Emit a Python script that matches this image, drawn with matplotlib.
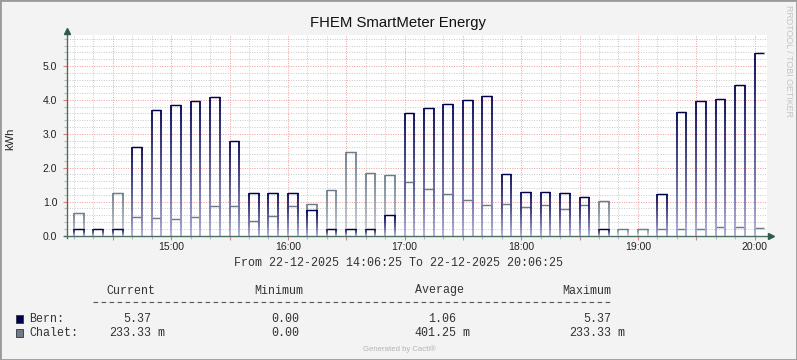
import matplotlib.pyplot as plt
import numpy as np
from matplotlib.collections import LineCollection
from matplotlib.patches import Rectangle
from matplotlib.colors import to_rgb
from matplotlib.ticker import MultipleLocator, FuncFormatter

# RRDtool / Cacti style graph, 5 minute steps, one reading every 10 minutes
W, H = 797, 360

slot_times = ['14:10', '14:20', '14:30', '14:40', '14:50', '15:00', '15:10', '15:20', '15:30',
              '15:40', '15:50', '16:00', '16:10', '16:20', '16:30', '16:40', '16:50', '17:00',
              '17:10', '17:20', '17:30', '17:40', '17:50', '18:00', '18:10', '18:20', '18:30',
              '18:40', '18:50', '19:00', '19:10', '19:20', '19:30', '19:40', '19:50', '20:00']
bern = [0.20, 0.20, 0.20, 2.60, 3.69, 3.84, 3.96, 4.08, 2.78, 1.24, 1.24, 1.24, 0.74, 0.20, 0.20,
        0.20, 0.60, 3.62, 3.75, 3.88, 4.00, 4.11, 1.81, 1.27, 1.27, 1.24, 1.13, 0.20, 0.00, 0.00,
        1.21, 3.63, 3.97, 4.03, 4.43, 5.37]
chalet = [0.65, 0.00, 1.24, 0.54, 0.51, 0.50, 0.54, 0.86, 0.86, 0.42, 0.57, 0.86, 0.92, 1.33, 2.45,
          1.83, 1.78, 1.57, 1.36, 1.21, 1.04, 0.89, 0.92, 0.83, 0.89, 0.77, 0.89, 1.01, 0.20, 0.20,
          0.20, 0.20, 0.20, 0.24, 0.24, 0.233]

legend_names = ['Bern:', 'Chalet:']
legend_current = ['5.37', '233.33 m']
legend_minimum = ['0.00', '0.00']
legend_average = ['1.06', '401.25 m']
legend_maximum = ['5.37', '233.33 m']

BERN_COL = '#000050'
CHALET_COL = '#6e7b8b'
AXIS_COL = '#4a6e62'
SANS = 'Liberation Sans'
MONO = 'Liberation Mono'

# x is in minutes after 14:00
t_start, t_end = 6 + 25 / 60, 366 + 25 / 60
slot_min = [(int(s[:2]) - 14) * 60 + int(s[3:]) for s in slot_times]


def px(x, y):
    return x / W, 1 - y / H


def draw_series(ax, starts, vals, color, light, width=5, data_end=365):
    c1 = np.array(to_rgb(color))
    c0 = np.array(to_rgb(light))
    segs, cols, lws = [], [], []
    for t, v in zip(starts, vals):
        if v <= 0:
            continue
        segs.append([(t, v), (t + width, v)])
        cols.append(c1)
        lws.append(1.05)
        for x in (t, t + width):
            if x >= data_end:
                continue
            n = 30
            ys = np.linspace(0, v, n + 1)
            for k in range(n):
                f = ((k + 0.5) / n) ** 0.8
                segs.append([(x, ys[k]), (x, ys[k + 1])])
                cols.append(c0 + (c1 - c0) * f)
                lws.append(1.3)
    ax.add_collection(LineCollection(segs, colors=cols, linewidths=lws, zorder=3, capstyle='butt'))


fig = plt.figure(figsize=(W / 100, H / 100), dpi=100, facecolor='#f3f3f3')
ax = fig.add_axes([67 / W, 1 - 235.5 / H, 700 / W, 200.5 / H], facecolor='#ffffff')

draw_series(ax, slot_min, chalet, CHALET_COL, '#d4d8de')
draw_series(ax, slot_min, bern, BERN_COL, '#b4b4dc')

ax.set_xlim(t_start, t_end)
ax.set_ylim(0, 5.915)

# grid: red dotted every 30 min / 1.0, grey dotted every 10 min / 0.2
ax.xaxis.set_major_locator(MultipleLocator(30))
ax.xaxis.set_minor_locator(MultipleLocator(10))
ax.yaxis.set_major_locator(MultipleLocator(1.0))
ax.yaxis.set_minor_locator(MultipleLocator(0.2))
ax.grid(which='minor', color='#c8c8c8', linestyle=(0, (1, 1.5)), linewidth=0.7, zorder=1)
ax.grid(which='major', color='#eb9a9a', linestyle=(0, (1, 1.5)), linewidth=0.7, zorder=1)
ax.set_axisbelow(True)


def hour_fmt(m, pos):
    m = int(round(m))
    if m % 60:
        return ''
    return f'{14 + m // 60}:00'


ax.xaxis.set_major_formatter(FuncFormatter(hour_fmt))
ax.yaxis.set_major_formatter(FuncFormatter(lambda v, p: f'{v:.1f}'))
ax.tick_params(which='major', length=3, width=0.8, color='#e08080', labelsize=7.5, labelcolor='#222222')
ax.tick_params(which='minor', length=2, width=0.8, color='#bbbbbb')
ax.tick_params(axis='x', which='major', pad=1.6)
ax.tick_params(axis='y', which='major', pad=4)
for lab in ax.get_xticklabels() + ax.get_yticklabels():
    lab.set_fontfamily(SANS)

for s in ax.spines.values():
    s.set_visible(False)

# axes with arrows
ax.plot([0, 0], [-0.012, 1.02], transform=ax.transAxes, color=AXIS_COL, lw=1.0, clip_on=False, zorder=5)
ax.plot([-0.004, 1.005], [0, 0], transform=ax.transAxes, color=AXIS_COL, lw=1.0, clip_on=False, zorder=5)
ax.plot([0], [1.02], marker='^', ms=4.5, color='#2f5a4c', transform=ax.transAxes, clip_on=False, zorder=6)
ax.plot([1.006], [0], marker='>', ms=4.5, color='#2f5a4c', transform=ax.transAxes, clip_on=False, zorder=6)

fig.text(*px(397.5, 22.5), 'FHEM SmartMeter Energy', family=SANS, fontsize=10.7,
         ha='center', va='center', color='#111111')
fig.text(*px(10, 139), 'kWh', family=SANS, fontsize=8, rotation=90,
         ha='center', va='center', color='#222222')
fig.text(*px(789, 5), 'RRDTOOL / TOBI OETIKER', family=SANS, fontsize=6.4, rotation=270,
         ha='center', va='top', color='#c4c4c4')

fig.text(*px(399, 263.5), 'From 22-12-2025 14:06:25 To 22-12-2025 20:06:25', family=MONO,
         fontsize=8.4, ha='center', va='center', color='#333333')

# legend table
for x, head in [(131, 'Current'), (278.5, 'Minimum'), (439, 'Average'), (586.5, 'Maximum')]:
    fig.text(*px(x, 290.5), head, family=MONO, fontsize=8.4, ha='center', va='center', color='#333333')
fig.add_artist(plt.Line2D([93 / W, 610 / W], [1 - 302 / H] * 2, color='#555555', lw=0.8,
                          linestyle=(0, (4.2, 3.0))))

row_y = [318.5, 332.5]
for i, (name, col) in enumerate(zip(legend_names, [BERN_COL, CHALET_COL])):
    y = row_y[i]
    fig.add_artist(Rectangle(px(15.5, y + 4), 7 / W, 8 / H, facecolor=col, edgecolor='#333333',
                             lw=0.6, transform=fig.transFigure))
    fig.text(*px(29.5, y), name, family=MONO, fontsize=8.4, ha='left', va='center', color='#333333')
    # numbers right-aligned on the decimal column, unit suffix after it
    for right, val in [(151.5, legend_current[i]), (299.5, legend_minimum[i]),
                       (456.5, legend_average[i]), (611.5, legend_maximum[i])]:
        num = val.split(' ')[0]
        fig.text(*px(right, y), num, family=MONO, fontsize=8.4, ha='right', va='center', color='#333333')
        if ' ' in val:
            fig.text(*px(right + 6, y), val.split(' ')[1], family=MONO, fontsize=8.4,
                     ha='left', va='center', color='#333333')

fig.text(*px(399.5, 349), 'Generated by Cacti\u00ae', family=SANS, fontsize=5.6,
         ha='center', va='center', color='#b4b4b4')

fig.add_artist(Rectangle((0, 0), 1, 1, transform=fig.transFigure, fill=False,
                         edgecolor='#9a9a9a', lw=2))

fig.savefig('out.png', dpi=100, facecolor=fig.get_facecolor())
